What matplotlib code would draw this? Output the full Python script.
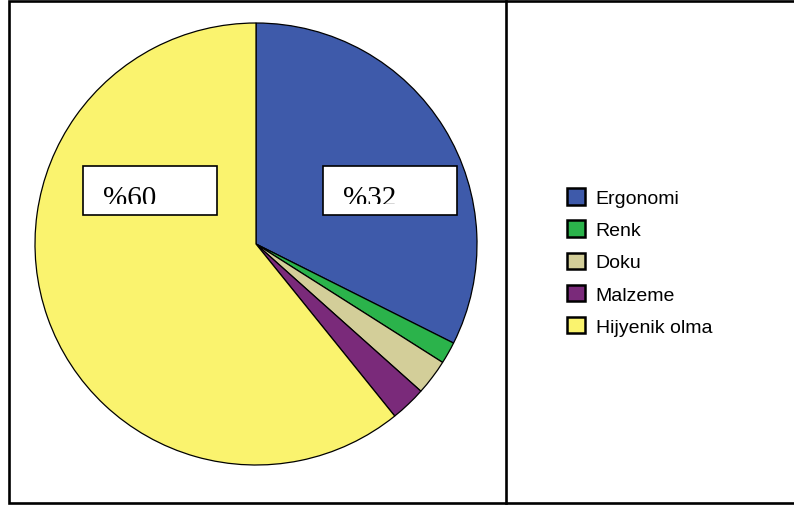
import matplotlib
matplotlib.use("Agg")
import matplotlib.pyplot as plt
from matplotlib.patches import Rectangle

# data
labels = ["Ergonomi", "Renk", "Doku", "Malzeme", "Hijyenik olma"]
values = [32.4, 1.6, 2.6, 2.6, 60.8]
colors = ["#3E5AAA", "#2BB34B", "#D3CE99", "#7A2A7A", "#FAF36E"]
box_texts = ["%60", "%32"]

W, H = 794, 506
fig = plt.figure(figsize=(W / 100, H / 100), dpi=100)
ax = fig.add_axes([0, 0, 1, 1])

# pixel helper: y measured from top
def py(y):
    return H - y

wedges, _ = ax.pie(values, colors=colors, startangle=90, counterclock=False,
                   center=(256, py(245)), radius=221,
                   wedgeprops=dict(edgecolor="black", linewidth=0.9))

ax.set_xlim(0, W)
ax.set_ylim(0, H)
ax.set_aspect("auto")
ax.axis("off")

# frame and divider
ax.plot([800, 9, 9, 800], [py(2), py(2), py(504), py(504)], color="black", lw=1.9,
        solid_joinstyle="miter", clip_on=False)
ax.plot([506, 506], [py(2), py(504)], color="black", lw=1.9)

# label boxes, text cut off at the bottom like the original
for (x0, x1), txt in zip([(83, 217), (323, 457)], box_texts):
    ax.add_patch(Rectangle((x0, py(216)), x1 - x0, 49, facecolor="white",
                           edgecolor="none", zorder=3))
    ax.text(x0 + 20.5, py(206.5), txt, fontsize=21, family="Liberation Serif",
            va="baseline", ha="left", zorder=4)
    # white band hides the lower part of the digits
    ax.add_patch(Rectangle((x0, py(216)), x1 - x0, 11.5, facecolor="white",
                           edgecolor="none", zorder=5))
    ax.add_patch(Rectangle((x0, py(216)), x1 - x0, 49, facecolor="none",
                           edgecolor="black", lw=1.2, zorder=6))

leg = ax.legend(wedges, labels, loc="center left",
                bbox_to_anchor=(557 / W, 1 - 263 / H),
                frameon=False, prop=dict(family="Liberation Sans", size=14),
                handlelength=0.93, handleheight=0.93, handletextpad=0.55,
                labelspacing=0.68, borderpad=0)
for h in leg.legend_handles:
    h.set_linewidth(1.8)

fig.savefig("out.png", dpi=100)
